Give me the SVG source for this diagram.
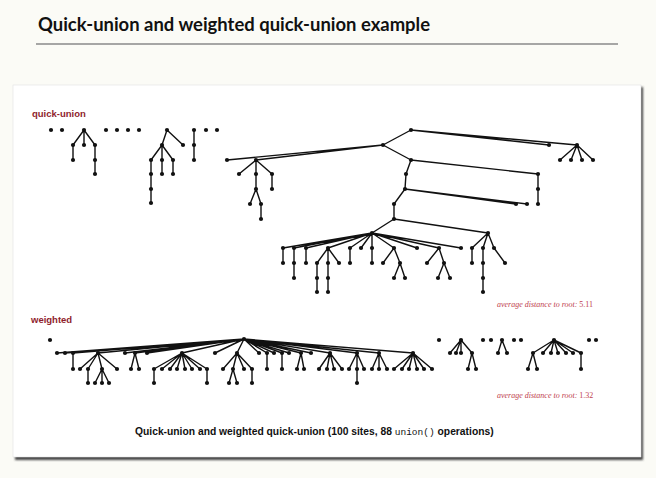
<svg xmlns="http://www.w3.org/2000/svg" width="656" height="478" viewBox="0 0 656 478">
<defs>
<style>
.e{stroke:#111;stroke-width:1.4;fill:none;stroke-linecap:round}
.n circle{fill:#111}
.lbl{font-family:"Liberation Sans",Arial,sans-serif;font-weight:bold;font-size:9.5px;fill:#8f1d2c}
.avg{font-family:"Liberation Serif","Times New Roman",serif;font-style:italic;font-size:8px;fill:#c0404e}
</style>
<filter id="sh" x="-5%" y="-5%" width="110%" height="110%"><feGaussianBlur stdDeviation="1.2"/></filter>
</defs>
<rect width="656" height="478" fill="#fbfbf6"/>
<text x="38" y="31" font-family="Lato,'DejaVu Sans',sans-serif" font-weight="bold" font-size="19" fill="#111" textLength="392" lengthAdjust="spacingAndGlyphs">Quick-union and weighted quick-union example</text>
<line x1="36" y1="44" x2="618" y2="44" stroke="#8a8a8a" stroke-width="1.5"/>
<rect x="15" y="87" width="628" height="373" fill="#444" filter="url(#sh)"/>
<rect x="13" y="85" width="628" height="372" fill="#ffffff" stroke="#e2e2e2" stroke-width="0.6"/>
<text x="32" y="117" class="lbl">quick-union</text>
<text x="31" y="323" class="lbl">weighted</text>
<g id="connectors" class="e">
<path d="M84,130L73,145M84,130L84,145M84,130L95,145M73,145L73,160M95,145L95,174"/>
<path d="M167,130L162,145M167,130L183,145M162,145L151,160M162,145L162,160M162,145L173,160M151,160L151,203M162,160L162,174M173,160L173,174"/>
<path d="M194,130L194,160"/>
<path d="M411,130L383,145M411,130L549,145M411,130L577,145M577,145L560,160M577,145L571,160M577,145L582,160M577,145L593,160M383,145L227,160M383,145L256,160M383,145L411,160M256,160L239,174M256,160L256,174M256,160L272,174M272,174L272,189M256,174L256,189M256,189L250,204M256,189L261,204M261,204L261,219M411,160L538,174M538,174L538,204M411,160L406,174L405,189M405,189L527,204M405,189L516,204M405,189L394,204L394,219M394,219L372,233M394,219L488,233"/>
<path d="M372,233L283,248M372,233L294,248M372,233L306,248M372,233L328,248M372,233L350,248M372,233L361,248M372,233L372,248M372,233L394,248M372,233L417,248M372,233L439,248M372,233L461,248M488,233L472,248M488,233L483,248M488,233L494,248"/>
<path d="M283,248L283,263M294,248L294,278M306,248L306,263M328,248L317,263M328,248L328,263M328,248L339,263M317,263L317,292M328,263L328,292M350,248L350,263M372,248L372,263M394,248L383,263M394,248L400,263M400,263L394,278M400,263L405,278M439,248L427,263M439,248L444,263M444,263L438,278M444,263L450,278M472,248L472,263M483,248L483,292M494,248L505,263"/>
<path d="M244,339L57,353M244,339L65,353M244,339L73,353M244,339L98,353M244,339L125,353M244,339L135,353M244,339L147,353M244,339L182,353M244,339L215,353M244,339L237,353M244,339L259,353M244,339L267,353M244,339L274,353M244,339L282,353M244,339L289,353M244,339L301,353M244,339L311,353M244,339L330,353M244,339L357,353M244,339L379,353M244,339L413,353"/>
<path d="M73,353L73,369M98,353L80,369M98,353L88,369M98,353L102,369M98,353L117,369M88,369L88,383M102,369L95,383M102,369L102,383M102,369L109,383M135,353L131,369M135,353L139,369M182,353L154,369M182,353L162,369M182,353L170,369M182,353L177,369M182,353L185,369M182,353L192,369M182,353L200,369M182,353L207,369M154,369L154,383M207,369L207,383M237,353L223,369M237,353L233,369M237,353L244,369M237,353L252,369M233,369L229,383M233,369L237,383M252,369L252,383M267,353L267,369M282,353L282,369M301,353L297,369M301,353L304,369M330,353L319,369M330,353L327,369M330,353L334,369M330,353L342,369M357,353L349,369M357,353L357,383M357,353L364,369M379,353L372,369M379,353L379,369M379,353L387,369M413,353L394,369M413,353L402,369M413,353L409,369M413,353L417,369M413,353L424,369M413,353L432,369"/>
<path d="M461,340L450,353M461,340L456,353M461,340L461,353M461,340L472,353M472,353L468,369M472,353L476,369M502,340L498,353M502,340L507,353M554,340L533,353M554,340L543,353M554,340L551,353M554,340L558,353M554,340L566,353M554,340L573,353M554,340L581,353M533,353L528,369M533,353L537,369M581,353L581,369"/>
</g>
<g id="qu-singletons" class="n"><circle cx="51" cy="130" r="2.1"/><circle cx="62" cy="130" r="2.1"/><circle cx="106" cy="130" r="2.1"/><circle cx="117" cy="130" r="2.1"/><circle cx="128" cy="130" r="2.1"/><circle cx="139" cy="130" r="2.1"/><circle cx="206" cy="130" r="2.1"/><circle cx="217" cy="130" r="2.1"/></g>
<g id="qu-tree-a" class="n"><circle cx="84" cy="130" r="2.1"/><circle cx="73" cy="145" r="2.1"/><circle cx="84" cy="145" r="2.1"/><circle cx="95" cy="145" r="2.1"/><circle cx="73" cy="160" r="2.1"/><circle cx="95" cy="160" r="2.1"/><circle cx="95" cy="174" r="2.1"/></g>
<g id="qu-tree-b" class="n"><circle cx="167" cy="130" r="2.1"/><circle cx="162" cy="145" r="2.1"/><circle cx="183" cy="145" r="2.1"/><circle cx="151" cy="160" r="2.1"/><circle cx="162" cy="160" r="2.1"/><circle cx="173" cy="160" r="2.1"/><circle cx="151" cy="174" r="2.1"/><circle cx="151" cy="189" r="2.1"/><circle cx="151" cy="203" r="2.1"/><circle cx="162" cy="174" r="2.1"/><circle cx="173" cy="174" r="2.1"/></g>
<g id="qu-tree-c" class="n"><circle cx="194" cy="130" r="2.1"/><circle cx="194" cy="145" r="2.1"/><circle cx="194" cy="160" r="2.1"/></g>
<g id="qu-tree-big" class="n">
<circle cx="411" cy="130" r="2.1"/><circle cx="383" cy="145" r="2.1"/><circle cx="549" cy="145" r="2.1"/><circle cx="577" cy="145" r="2.1"/><circle cx="560" cy="160" r="2.1"/><circle cx="571" cy="160" r="2.1"/><circle cx="582" cy="160" r="2.1"/><circle cx="593" cy="160" r="2.1"/>
<circle cx="227" cy="160" r="2.1"/><circle cx="256" cy="160" r="2.1"/><circle cx="411" cy="160" r="2.1"/><circle cx="239" cy="174" r="2.1"/><circle cx="256" cy="174" r="2.1"/><circle cx="272" cy="174" r="2.1"/><circle cx="272" cy="189" r="2.1"/><circle cx="256" cy="189" r="2.1"/><circle cx="250" cy="204" r="2.1"/><circle cx="261" cy="204" r="2.1"/><circle cx="261" cy="219" r="2.1"/>
<circle cx="538" cy="174" r="2.1"/><circle cx="538" cy="189" r="2.1"/><circle cx="538" cy="204" r="2.1"/><circle cx="406" cy="174" r="2.1"/><circle cx="405" cy="189" r="2.1"/><circle cx="527" cy="204" r="2.1"/><circle cx="516" cy="204" r="2.1"/><circle cx="394" cy="204" r="2.1"/><circle cx="394" cy="219" r="2.1"/><circle cx="372" cy="233" r="2.1"/><circle cx="488" cy="233" r="2.1"/>
<circle cx="283" cy="248" r="2.1"/><circle cx="294" cy="248" r="2.1"/><circle cx="306" cy="248" r="2.1"/><circle cx="328" cy="248" r="2.1"/><circle cx="350" cy="248" r="2.1"/><circle cx="361" cy="248" r="2.1"/><circle cx="372" cy="248" r="2.1"/><circle cx="394" cy="248" r="2.1"/><circle cx="417" cy="248" r="2.1"/><circle cx="439" cy="248" r="2.1"/><circle cx="461" cy="248" r="2.1"/><circle cx="472" cy="248" r="2.1"/><circle cx="483" cy="248" r="2.1"/><circle cx="494" cy="248" r="2.1"/>
<circle cx="283" cy="263" r="2.1"/><circle cx="294" cy="263" r="2.1"/><circle cx="306" cy="263" r="2.1"/><circle cx="317" cy="263" r="2.1"/><circle cx="328" cy="263" r="2.1"/><circle cx="339" cy="263" r="2.1"/><circle cx="350" cy="263" r="2.1"/><circle cx="372" cy="263" r="2.1"/><circle cx="383" cy="263" r="2.1"/><circle cx="400" cy="263" r="2.1"/><circle cx="427" cy="263" r="2.1"/><circle cx="444" cy="263" r="2.1"/><circle cx="472" cy="263" r="2.1"/><circle cx="483" cy="263" r="2.1"/><circle cx="505" cy="263" r="2.1"/>
<circle cx="294" cy="278" r="2.1"/><circle cx="317" cy="278" r="2.1"/><circle cx="328" cy="278" r="2.1"/><circle cx="394" cy="278" r="2.1"/><circle cx="405" cy="278" r="2.1"/><circle cx="438" cy="278" r="2.1"/><circle cx="450" cy="278" r="2.1"/><circle cx="483" cy="278" r="2.1"/>
<circle cx="317" cy="292" r="2.1"/><circle cx="328" cy="292" r="2.1"/><circle cx="483" cy="292" r="2.1"/>
</g>
<g id="w-singletons" class="n"><circle cx="50" cy="340" r="2.1"/><circle cx="439" cy="340" r="2.1"/><circle cx="483" cy="340" r="2.1"/><circle cx="491" cy="340" r="2.1"/><circle cx="514" cy="340" r="2.1"/><circle cx="521" cy="340" r="2.1"/><circle cx="589" cy="340" r="2.1"/><circle cx="596" cy="340" r="2.1"/></g>
<g id="w-tree-big" class="n">
<circle cx="244" cy="339" r="2.1"/>
<circle cx="57" cy="353" r="2.1"/><circle cx="65" cy="353" r="2.1"/><circle cx="73" cy="353" r="2.1"/><circle cx="98" cy="353" r="2.1"/><circle cx="125" cy="353" r="2.1"/><circle cx="135" cy="353" r="2.1"/><circle cx="147" cy="353" r="2.1"/><circle cx="182" cy="353" r="2.1"/><circle cx="215" cy="353" r="2.1"/><circle cx="237" cy="353" r="2.1"/><circle cx="259" cy="353" r="2.1"/><circle cx="267" cy="353" r="2.1"/><circle cx="274" cy="353" r="2.1"/><circle cx="282" cy="353" r="2.1"/><circle cx="289" cy="353" r="2.1"/><circle cx="301" cy="353" r="2.1"/><circle cx="311" cy="353" r="2.1"/><circle cx="330" cy="353" r="2.1"/><circle cx="357" cy="353" r="2.1"/><circle cx="379" cy="353" r="2.1"/><circle cx="413" cy="353" r="2.1"/>
<circle cx="73" cy="369" r="2.1"/><circle cx="80" cy="369" r="2.1"/><circle cx="88" cy="369" r="2.1"/><circle cx="102" cy="369" r="2.1"/><circle cx="117" cy="369" r="2.1"/><circle cx="131" cy="369" r="2.1"/><circle cx="139" cy="369" r="2.1"/><circle cx="154" cy="369" r="2.1"/><circle cx="162" cy="369" r="2.1"/><circle cx="170" cy="369" r="2.1"/><circle cx="177" cy="369" r="2.1"/><circle cx="185" cy="369" r="2.1"/><circle cx="192" cy="369" r="2.1"/><circle cx="200" cy="369" r="2.1"/><circle cx="207" cy="369" r="2.1"/><circle cx="223" cy="369" r="2.1"/><circle cx="233" cy="369" r="2.1"/><circle cx="244" cy="369" r="2.1"/><circle cx="252" cy="369" r="2.1"/><circle cx="267" cy="369" r="2.1"/><circle cx="282" cy="369" r="2.1"/><circle cx="297" cy="369" r="2.1"/><circle cx="304" cy="369" r="2.1"/><circle cx="319" cy="369" r="2.1"/><circle cx="327" cy="369" r="2.1"/><circle cx="334" cy="369" r="2.1"/><circle cx="342" cy="369" r="2.1"/><circle cx="349" cy="369" r="2.1"/><circle cx="357" cy="369" r="2.1"/><circle cx="364" cy="369" r="2.1"/><circle cx="372" cy="369" r="2.1"/><circle cx="379" cy="369" r="2.1"/><circle cx="387" cy="369" r="2.1"/><circle cx="394" cy="369" r="2.1"/><circle cx="402" cy="369" r="2.1"/><circle cx="409" cy="369" r="2.1"/><circle cx="417" cy="369" r="2.1"/><circle cx="424" cy="369" r="2.1"/><circle cx="432" cy="369" r="2.1"/>
<circle cx="88" cy="383" r="2.1"/><circle cx="95" cy="383" r="2.1"/><circle cx="102" cy="383" r="2.1"/><circle cx="109" cy="383" r="2.1"/><circle cx="154" cy="383" r="2.1"/><circle cx="207" cy="383" r="2.1"/><circle cx="229" cy="383" r="2.1"/><circle cx="237" cy="383" r="2.1"/><circle cx="252" cy="383" r="2.1"/><circle cx="357" cy="383" r="2.1"/>
</g>
<g id="w-tree-b" class="n"><circle cx="461" cy="340" r="2.1"/><circle cx="450" cy="353" r="2.1"/><circle cx="456" cy="353" r="2.1"/><circle cx="461" cy="353" r="2.1"/><circle cx="472" cy="353" r="2.1"/><circle cx="468" cy="369" r="2.1"/><circle cx="476" cy="369" r="2.1"/></g>
<g id="w-tree-c" class="n"><circle cx="502" cy="340" r="2.1"/><circle cx="498" cy="353" r="2.1"/><circle cx="507" cy="353" r="2.1"/></g>
<g id="w-tree-d" class="n"><circle cx="554" cy="340" r="2.1"/><circle cx="533" cy="353" r="2.1"/><circle cx="543" cy="353" r="2.1"/><circle cx="551" cy="353" r="2.1"/><circle cx="558" cy="353" r="2.1"/><circle cx="566" cy="353" r="2.1"/><circle cx="573" cy="353" r="2.1"/><circle cx="581" cy="353" r="2.1"/><circle cx="528" cy="369" r="2.1"/><circle cx="537" cy="369" r="2.1"/><circle cx="581" cy="369" r="2.1"/></g>
<text x="497" y="307" class="avg">average distance to root: <tspan font-style="normal">5.11</tspan></text>
<text x="497" y="398" class="avg">average distance to root: <tspan font-style="normal">1.32</tspan></text>
<text x="135" y="435" font-family="'Liberation Sans',Arial,sans-serif" font-weight="bold" font-size="10.3" fill="#111">Quick-union and weighted quick-union (100 sites, 88 <tspan font-family="'Liberation Mono','Courier New',monospace" font-weight="normal" font-size="9.5">union()</tspan> operations)</text>
</svg>
